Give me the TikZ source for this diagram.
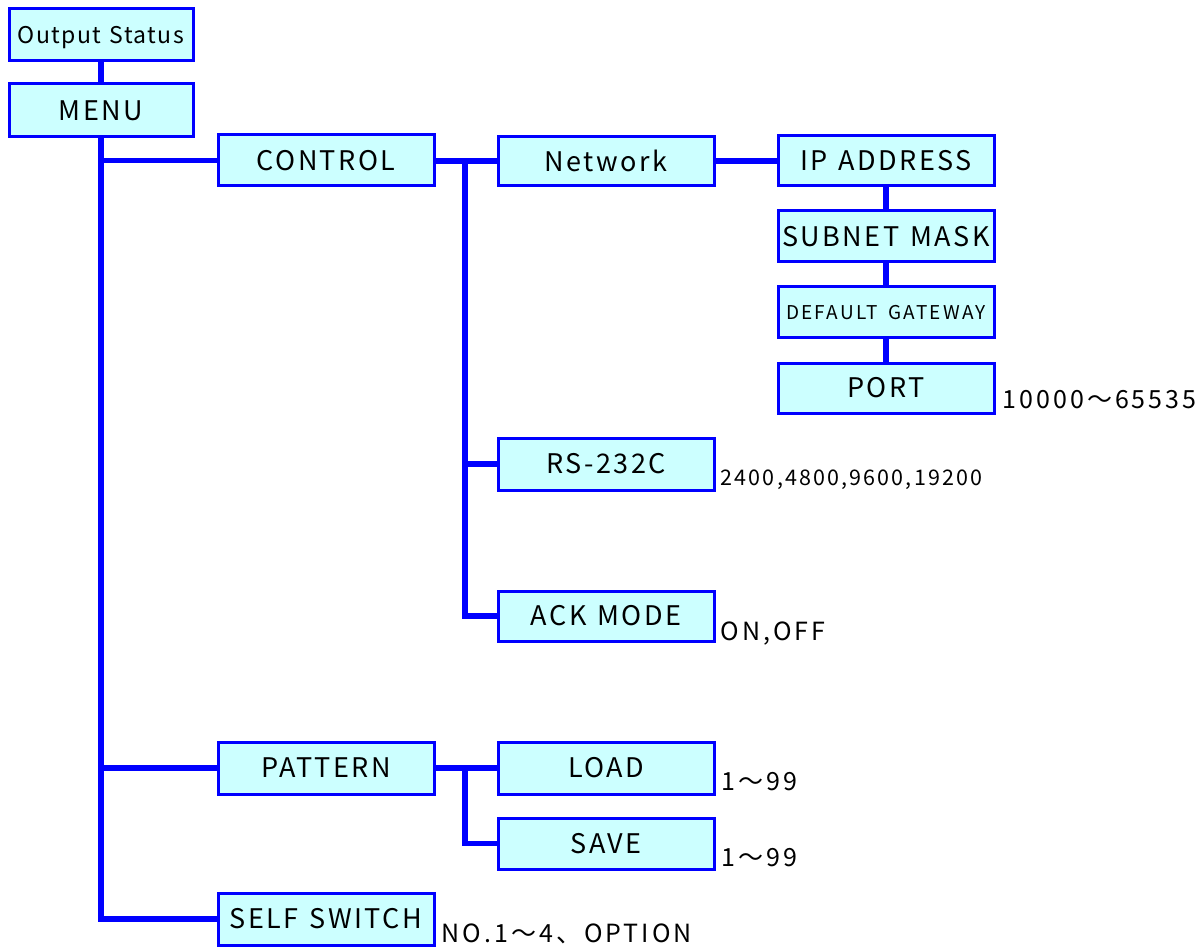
\documentclass[tikz,border=0pt]{standalone}
\usepackage{fontspec}
\usetikzlibrary{calc}
\setmainfont{Noto Sans CJK JP}
\newfontfamily\boxfont{Noto Sans CJK JP}[LetterSpace=9,WordSpace=1.3]
\newfontfamily\lblfont{Noto Sans CJK JP}[LetterSpace=12]
\newfontfamily\gwfont{Noto Sans CJK JP}[LetterSpace=12,WordSpace=1.6]
\newfontfamily\osfont{Noto Sans CJK JP}[LetterSpace=6,WordSpace=1.3]
\newfontfamily\numfont{Noto Sans CJK JP}[LetterSpace=10]
\begin{document}
\begin{tikzpicture}[x=1pt,y=-1pt,
  box/.style={draw=boxblue,fill=boxfill,line width=3pt,minimum width=216pt,minimum height=51pt,
    inner sep=0pt,text height=19.6pt,text depth=0pt,font=\boxfont\fontsize{27}{27}\selectfont},
  conn/.style={draw=boxblue,line width=5.5pt,line join=miter},
  lbl/.style={anchor=base west,inner sep=0pt,font=\lblfont\fontsize{25}{25}\selectfont}]
\definecolor{boxblue}{RGB}{0,0,255}
\definecolor{boxfill}{RGB}{204,255,255}
\useasboundingbox (0,0) rectangle (1204,949);
% nodes
\node[box,minimum width=184pt,minimum height=52pt,text height=16.8pt,font=\osfont\fontsize{23}{23}\selectfont] (outs) at (101,35) {Output Status};
\node[box,minimum width=184pt,minimum height=53pt] (menu) at (101,110.5) {MENU};
\node[box] (control) at (326,160.5) {CONTROL};
\node[box,minimum height=49pt] (network) at (606,161.5) {Network};
\node[box,minimum height=50pt] (ip) at (886,161) {IP ADDRESS};
\node[box] (subnet) at (886,236.5) {SUBNET MASK};
\node[box,text height=13.9pt,font=\gwfont\fontsize{19}{19}\selectfont] (gateway) at (886,312.5) {DEFAULT GATEWAY};
\node[box,minimum height=50pt] (port) at (886,388) {PORT};
\node[box,minimum height=52pt] (rs) at (606,464) {RS-232C};
\node[box,minimum height=50pt] (ack) at (606,616) {ACK MODE};
\node[box,minimum height=52pt] (pattern) at (326,768) {PATTERN};
\node[box,minimum height=52pt] (load) at (606,768) {LOAD};
\node[box] (save) at (606,843.5) {SAVE};
\node[box,minimum height=52pt] (self) at (326,919) {SELF SWITCH};
% labels
\node[lbl] (lport) at ($(port.south east)+(7,-6)$) {10000～65535};
\node[lbl,font=\numfont\fontsize{21.5}{21.5}\selectfont] (lrs) at ($(rs.south east)+(5,-6)$) {2400,4800,9600,19200};
\node[lbl] (lack) at ($(ack.south east)+(5,-2)$) {ON,OFF};
\node[lbl] (lload) at ($(load.south east)+(6,-5)$) {1～99};
\node[lbl] (lsave) at ($(save.south east)+(6,-4)$) {1～99};
\node[lbl] (lself) at ($(self.south east)+(6,-4)$) {NO.1～4、OPTION};
% connectors
\coordinate (cb) at (465,161);
\coordinate (pb) at (465,768);
\draw[conn] (outs.south) -- (menu.north);
\draw[conn] (menu.south) -- (menu.south |- self.west) -- (self.west);
\draw[conn] (menu.south |- control.west) -- (control.west);
\draw[conn] (menu.south |- pattern.west) -- (pattern.west);
\draw[conn] (control.east |- cb) -- (network.west |- cb);
\draw[conn] (cb) -- (cb |- ack.west) -- (ack.west);
\draw[conn] (cb |- rs.west) -- (rs.west);
\draw[conn] (network.east |- ip.west) -- (ip.west);
\draw[conn] (ip.south) -- (subnet.north);
\draw[conn] (subnet.south) -- (gateway.north);
\draw[conn] (gateway.south) -- (port.north);
\draw[conn] (pattern.east) -- (load.west);
\draw[conn] (pb) -- (pb |- save.west) -- (save.west);
\end{tikzpicture}
\end{document}
